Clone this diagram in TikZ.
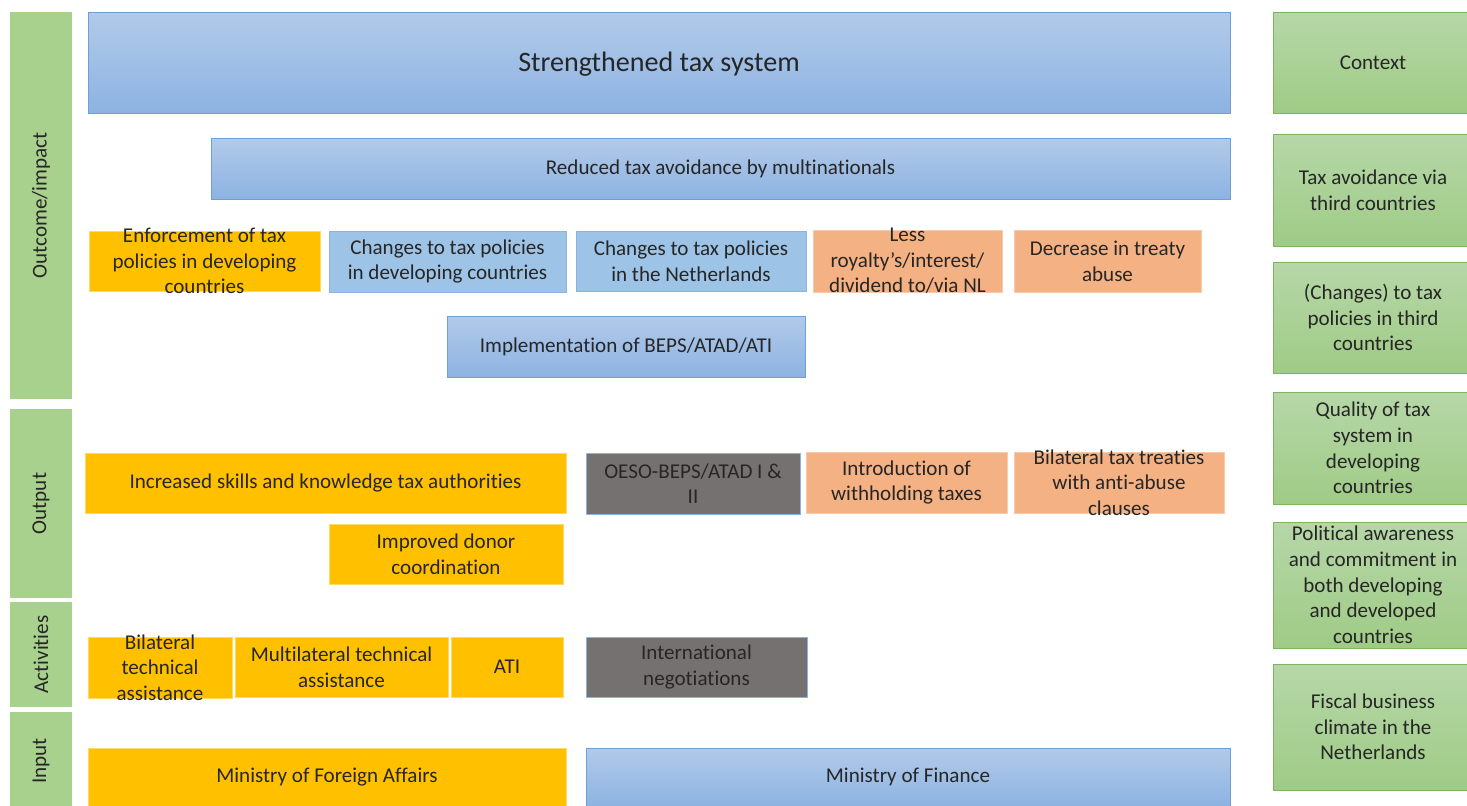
\documentclass[tikz,border=0pt]{standalone}
\usepackage{fontspec}
\setmainfont{Carlito}[Ligatures={NoCommon}]
\usetikzlibrary{positioning}
\definecolor{sidegreen}{HTML}{A9D18E}
\definecolor{ctxtop}{HTML}{B6D7A8}
\definecolor{ctxbot}{HTML}{9FCB86}
\definecolor{ctxline}{HTML}{7DB65A}
\definecolor{bluetop}{HTML}{B2CAE9}
\definecolor{bluebot}{HTML}{8DB3E2}
\definecolor{blueline}{HTML}{6E9FD9}
\definecolor{bluesolid}{HTML}{9DC3E6}
\definecolor{yellowbox}{HTML}{FFC000}
\definecolor{yellowline}{HTML}{FFD966}
\definecolor{orangebox}{HTML}{F4B183}
\definecolor{orangeline}{HTML}{F8CBAD}
\definecolor{greybox}{HTML}{767171}
\begin{document}
\begin{tikzpicture}[x=0.02cm,y=-0.02cm,
    lbl/.style={font=\fontsize{12}{14.6}\selectfont,align=center,text=black!85,inner sep=0pt},
    side/.style={fill=sidegreen},
    ctx/.style={draw=ctxline,top color=ctxtop,bottom color=ctxbot},
    bluegrad/.style={draw=blueline,top color=bluetop,bottom color=bluebot},
    blueflat/.style={draw=blueline!80,fill=bluesolid},
    ylw/.style={draw=yellowline,fill=yellowbox},
    org/.style={draw=orangeline,fill=orangebox},
    gry/.style={draw=bluebot,fill=greybox}]
      \useasboundingbox (0,0) rectangle (1467,805);

      % levels on the left
      \path[side] (10,12) rectangle (72,399) node[lbl,pos=.5,rotate=90] (lvout) {Outcome/impact};
      \path[side] (10,409) rectangle (72,598) node[lbl,pos=.5,rotate=90] (lvput) {Output};
      \path[side] (10,602) rectangle (72,707) node[lbl,pos=.5,rotate=90] (lvact) {Activities};
      \path[side] (10,712) rectangle (72,810) node[lbl,pos=.5,rotate=90] (lvin) {Input};

      % outcome / impact
      \path[bluegrad] (88,12) rectangle (1230,113) node[lbl,pos=.5,font=\fontsize{16}{19}\selectfont,yshift=-1] (strong) {Strengthened tax system};
      \path[bluegrad] (211,138) rectangle (1230,199) node[lbl,pos=.5] (reduced) {Reduced tax avoidance by multinationals};
      \path[ylw] (89,231) rectangle (320,291) node[lbl,pos=.5] (enforce) {Enforcement of tax\\policies in developing\\countries};
      \path[blueflat] (329,231) rectangle (566,292) node[lbl,pos=.5] (chdev) {Changes to tax policies\\in developing countries};
      \path[blueflat] (576,231) rectangle (806,291) node[lbl,pos=.5] (chnl) {Changes to tax policies\\in the Netherlands};
      \path[org] (813,230) rectangle (1002,292) node[lbl,pos=.5] (royal) {Less\\royalty’s/interest/\\dividend to/via NL};
      \path[org] (1014,230) rectangle (1201,292) node[lbl,pos=.5] (treaty) {Decrease in treaty\\abuse};
      \path[bluegrad] (447,316) rectangle (805,377) node[lbl,pos=.5] (beps) {Implementation of BEPS/ATAD/ATI};

      % output
      \path[ylw] (85,453) rectangle (566,513) node[lbl,pos=.5] (skills) {Increased skills and knowledge tax authorities};
      \path[gry] (586,453) rectangle (800,514) node[lbl,pos=.5] (oeso) {OESO-BEPS/ATAD I \&\\II};
      \path[org] (806,452) rectangle (1007,513) node[lbl,pos=.5] (withh) {Introduction of\\withholding taxes};
      \path[org] (1014,452) rectangle (1224,513) node[lbl,pos=.5] (bilat) {Bilateral tax treaties\\with anti-abuse\\clauses};
      \path[ylw] (329,524) rectangle (563,584) node[lbl,pos=.5] (donor) {Improved donor\\coordination};

      % activities
      \path[ylw] (88,637) rectangle (232,698) node[lbl,pos=.5] (bta) {Bilateral\\technical\\assistance};
      \path[ylw] (235,637) rectangle (448,697) node[lbl,pos=.5] (mta) {Multilateral technical\\assistance};
      \path[ylw] (451,637) rectangle (563,697) node[lbl,pos=.5] (ati) {ATI};
      \path[gry] (586,637) rectangle (807,697) node[lbl,pos=.5] (negot) {International\\negotiations};

      % input
      \path[ylw] (88,748) rectangle (566,806) node[lbl,pos=.5] (mfa) {Ministry of Foreign Affairs};
      \path[bluegrad] (586,748) rectangle (1230,806) node[lbl,pos=.5] (mfin) {Ministry of Finance};

      % context column
      \path[ctx] (1273,12) rectangle (1473,113) node[lbl,pos=.5] (context) {Context};
      \path[ctx] (1273,134) rectangle (1473,246) node[lbl,pos=.5] (third) {Tax avoidance via\\third countries};
      \path[ctx] (1273,262) rectangle (1473,373) node[lbl,pos=.5] (thirdpol) {(Changes) to tax\\policies in third\\countries};
      \path[ctx] (1273,392) rectangle (1473,504) node[lbl,pos=.5] (quality) {Quality of tax\\system in\\developing\\countries};
      \path[ctx] (1273,522) rectangle (1473,648) node[lbl,pos=.5] (polit) {Political awareness\\and commitment in\\both developing\\and developed\\countries};
      \path[ctx] (1273,664) rectangle (1473,790) node[lbl,pos=.5] (fiscal) {Fiscal business\\climate in the\\Netherlands};
    \end{tikzpicture}
\end{document}
